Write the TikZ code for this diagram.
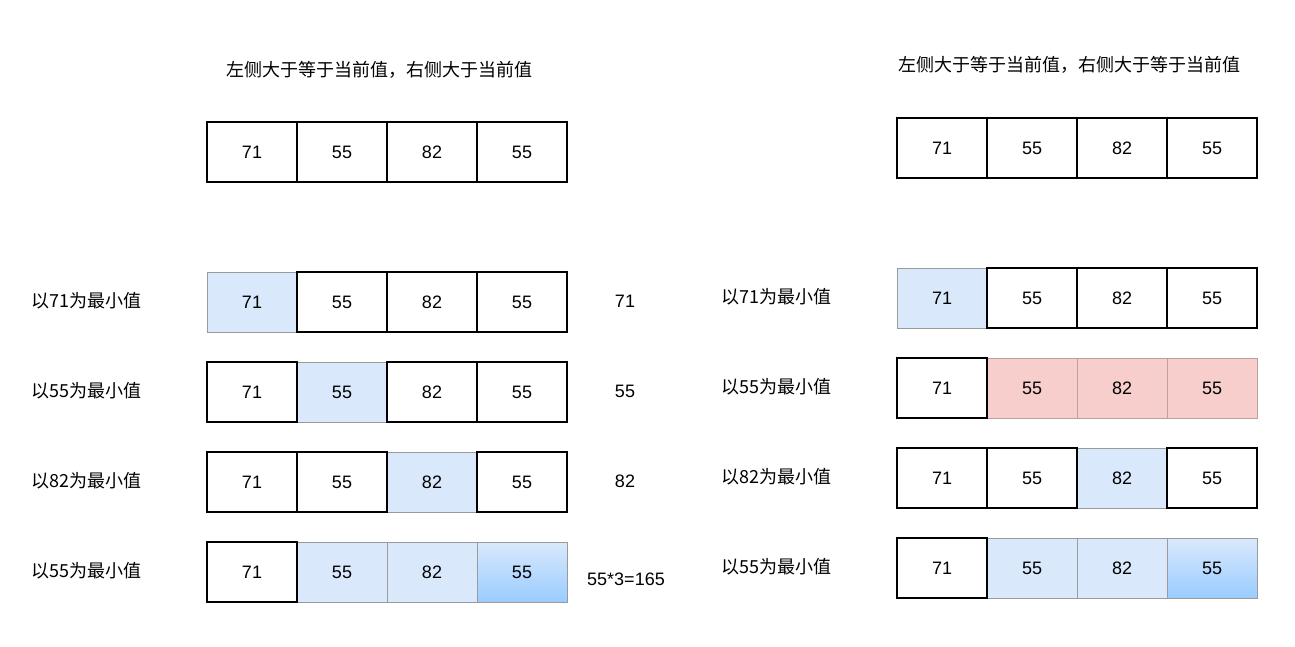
\documentclass[tikz,border=0pt]{standalone}
\usepackage{fontspec}
\setmainfont{Liberation Sans}
\newfontfamily\cjk{Noto Sans CJK SC}
\usetikzlibrary{positioning}
\definecolor{hlblue}{HTML}{DAE8FC}
\definecolor{hlred}{HTML}{F8CECC}
\definecolor{gradblue}{HTML}{99CCFF}
\definecolor{hlline}{HTML}{9A9A9A}
\definecolor{redline}{HTML}{BFA0A0}
\tikzset{
  cell/.style={draw, line width=0.9pt, minimum width=67.5pt, minimum height=45pt, inner sep=0pt, outer sep=0pt, font=\fontsize{13.5}{16}\selectfont},
  hl/.style={cell, fill=hlblue, draw=hlline, line width=0.7pt},
  hlred/.style={cell, fill=hlred, draw=redline, line width=0.7pt},
  grad/.style={cell, top color=hlblue, bottom color=gradblue, draw=hlline, line width=0.7pt},
  lbl/.style={inner sep=0pt, anchor=west, font=\cjk\fontsize{13.5}{16}\selectfont},
  res/.style={inner sep=0pt, font=\fontsize{13.5}{16}\selectfont}
}
\begin{document}
\begin{tikzpicture}[x=0.75pt, y=-0.75pt]
  \useasboundingbox (0,0) rectangle (1295,646);
  % left: right side strictly greater
  \node[res, font=\cjk\fontsize{13.5}{16}\selectfont] (ltitle) at (379,70) {左侧大于等于当前值，右侧大于当前值};
  \foreach \i/\v/\s in {1/71/cell,2/55/cell,3/82/cell,4/55/cell} \node[\s] (L0c\i) at ({252+90*(\i-1)},152) {\v};
  \foreach \i/\v/\s in {1/71/hl,2/55/cell,3/82/cell,4/55/cell} \node[\s] (L1c\i) at ({252+90*(\i-1)},302) {\v};
  \foreach \i/\v/\s in {2/55/hl,1/71/cell,3/82/cell,4/55/cell} \node[\s] (L2c\i) at ({252+90*(\i-1)},392) {\v};
  \foreach \i/\v/\s in {3/82/hl,1/71/cell,2/55/cell,4/55/cell} \node[\s] (L3c\i) at ({252+90*(\i-1)},482) {\v};
  \foreach \i/\v/\s in {2/55/hl,3/82/hl,4/55/grad,1/71/cell} \node[\s] (L4c\i) at ({252+90*(\i-1)},572) {\v};
  \node[lbl] (L1lbl) at (31,301) {以71为最小值};
  \node[lbl] (L2lbl) at (31,391) {以55为最小值};
  \node[lbl] (L3lbl) at (31,481) {以82为最小值};
  \node[lbl] (L4lbl) at (31,571) {以55为最小值};
  \node[res] (L1res) at (625,301) {71};
  \node[res] (L2res) at (625,391) {55};
  \node[res] (L3res) at (625,481) {82};
  \node[res] (L4res) at (626,579) {55*3=165};
  % right: both sides greater or equal
  \node[res, font=\cjk\fontsize{13.5}{16}\selectfont] (rtitle) at (1069,65) {左侧大于等于当前值，右侧大于等于当前值};
  \foreach \i/\v/\s in {1/71/cell,2/55/cell,3/82/cell,4/55/cell} \node[\s] (R0c\i) at ({942+90*(\i-1)},148) {\v};
  \foreach \i/\v/\s in {1/71/hl,2/55/cell,3/82/cell,4/55/cell} \node[\s] (R1c\i) at ({942+90*(\i-1)},298) {\v};
  \foreach \i/\v/\s in {2/55/hlred,3/82/hlred,4/55/hlred,1/71/cell} \node[\s] (R2c\i) at ({942+90*(\i-1)},388) {\v};
  \foreach \i/\v/\s in {3/82/hl,1/71/cell,2/55/cell,4/55/cell} \node[\s] (R3c\i) at ({942+90*(\i-1)},478) {\v};
  \foreach \i/\v/\s in {2/55/hl,3/82/hl,4/55/grad,1/71/cell} \node[\s] (R4c\i) at ({942+90*(\i-1)},568) {\v};
  \node[lbl] (R1lbl) at (721,297) {以71为最小值};
  \node[lbl] (R2lbl) at (721,387) {以55为最小值};
  \node[lbl] (R3lbl) at (721,477) {以82为最小值};
  \node[lbl] (R4lbl) at (721,567) {以55为最小值};
\end{tikzpicture}
\end{document}
